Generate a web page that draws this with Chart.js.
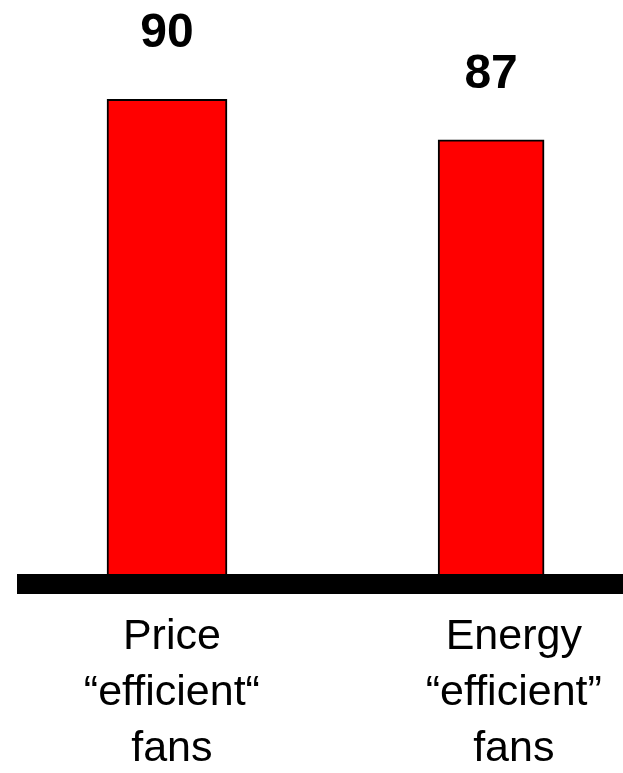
<!DOCTYPE html>
<html>
<head>
<meta charset="utf-8">
<script src="https://cdn.jsdelivr.net/npm/chart.js@4"></script>
<style>
  html, body { margin: 0; padding: 0; background: #fff; }
  canvas { display: block; }
</style>
</head>
<body>
<canvas id="fanChart" width="623" height="773"></canvas>
<script>
// fan groups and their scores
const categories = [
  ['Price', '\u201Cefficient\u201C', 'fans'],
  ['Energy', '\u201Cefficient\u201D', 'fans']
];
const fanScores = [90, 87];
const barWidths = [120, 106];
// captions sit a little right of their bars
const labelShift = [0.015, 0.07];

const FONT = "'Liberation Sans', Arial, Helvetica, sans-serif";

// bold score above each bar
const valueLabels = {
  id: 'valueLabels',
  afterDatasetsDraw(chart) {
    const ctx = chart.ctx;
    ctx.save();
    ctx.font = 'bold 48px ' + FONT;
    ctx.fillStyle = '#000';
    ctx.textAlign = 'center';
    ctx.textBaseline = 'alphabetic';
    chart.data.datasets.forEach((ds, i) => {
      chart.getDatasetMeta(i).data.forEach((bar, j) => {
        ctx.fillText(String(ds.data[j].y), bar.x, bar.y - 52);
      });
    });
    ctx.restore();
  }
};

const c1 = document.getElementById('fanChart');

new Chart(c1, {
  type: 'bar',
  data: {
    datasets: fanScores.map((v, i) => ({
      data: [{ x: i, y: v }],
      backgroundColor: '#ff0000',
      borderColor: '#000000',
      borderWidth: 2,
      borderSkipped: false,
      barThickness: barWidths[i],
      grouped: false
    }))
  },
  options: {
    responsive: false,
    animation: false,
    layout: { padding: { top: 32, left: 27, right: 0, bottom: 0 } },
    plugins: {
      legend: { display: false },
      tooltip: { enabled: false }
    },
    scales: {
      x: {
        type: 'linear',
        offset: false,
        min: -0.432,
        max: 1.407,
        z: 1,
        grid: { display: false, drawTicks: false },
        border: { display: true, color: '#000', width: 20, z: 1 },
        afterFit(scale) {
          scale.height = 189;
          scale.paddingLeft = 0;
          scale.paddingRight = 0;
        },
        afterBuildTicks(scale) {
          scale.ticks = categories.map((c, i) => ({ value: i + labelShift[i] }));
        },
        ticks: {
          padding: 25,
          color: '#000',
          font: { family: FONT, size: 43, lineHeight: 1.302 },
          callback: (value, index) => categories[index]
        }
      },
      y: {
        display: false,
        min: 54,
        max: 95
      }
    }
  },
  plugins: [valueLabels]
});
</script>
</body>
</html>
